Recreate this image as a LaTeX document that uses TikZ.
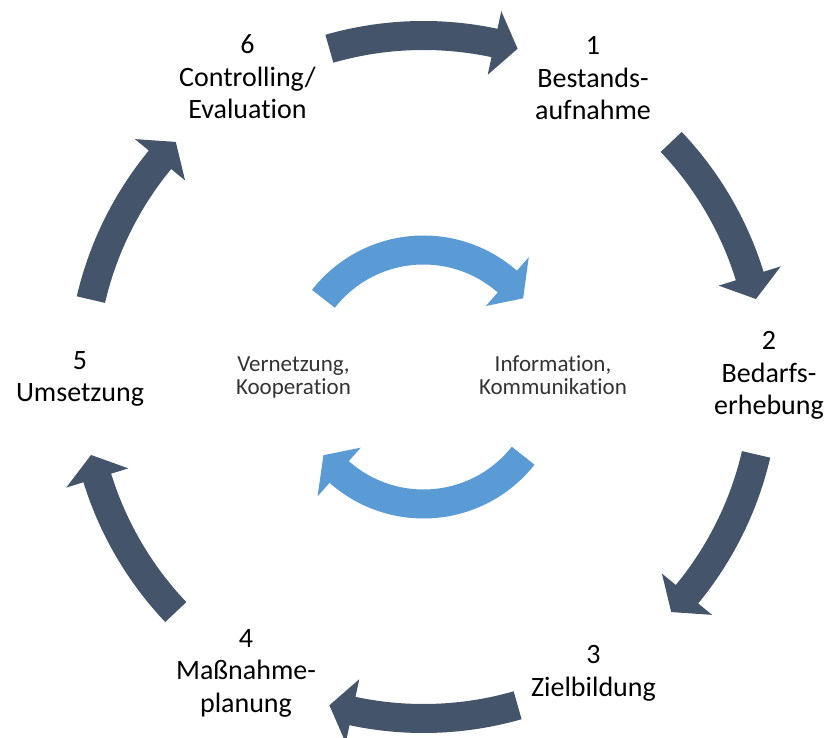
\documentclass[tikz,border=0pt]{standalone}
\usepackage{fontspec}
\setmainfont[Ligatures=NoCommon]{Carlito}
\definecolor{slate}{HTML}{44546A}
\definecolor{sky}{HTML}{5B9BD5}

% block arrow running clockwise on a circle round the origin
% #1 radius, #2 tail angle, #3 tip angle, #4 head length (degrees)
\newcommand\ringarrow[4]{%
  \pgfmathsetmacro\ro{#1+14.5}%
  \pgfmathsetmacro\ri{#1-14.5}%
  \pgfmathsetmacro\ho{#1+32.5}%
  \pgfmathsetmacro\hi{#1-32.5}%
  \pgfmathsetmacro\hb{#3+#4}%
  \fill (#2:\ro pt) arc[start angle=#2,end angle=\hb,radius=\ro pt]
    -- (\hb:\ho pt) -- (#3:#1pt) -- (\hb:\hi pt) -- (\hb:\ri pt)
    arc[start angle=\hb,end angle=#2,radius=\ri pt] -- cycle;
}

\begin{document}
\begin{tikzpicture}[x=1pt,y=1pt,
  phase/.style={align=center,inner sep=0pt,anchor=base,
    font=\fontsize{28}{32.5}\selectfont},
  hub/.style={align=center,inner sep=0pt,anchor=base,text=black!80,
    font=\fontsize{23}{23.5}\selectfont}]
\useasboundingbox (-423.5,-361) rectangle (400.5,377);

% outer cycle
\begin{scope}[fill=slate]
\foreach \a/\b in {106/74, 43.5/13.2, -13.1/-43.5, -74/-106, 223.5/193.2, 166.9/136.5}
  \ringarrow{341.5}{\a}{\b}{4};
\end{scope}

% inner pair
\begin{scope}[fill=sky]
\ringarrow{127}{142}{38.3}{10.4}
\ringarrow{127}{-38.3}{-142}{10.4}
\end{scope}

% anchor=base sits on the last line
\node[phase] (p1) at (169.5,257)  {1\\Bestands-\\aufnahme};
\node[phase] (p2) at (345.5,-38)  {2\\Bedarfs-\\erhebung};
\node[phase] (p3) at (170,-319)   {3\\Zielbildung};
\node[phase] (p4) at (-177.5,-335){4\\Maßnahme-\\planung};
\node[phase] (p5) at (-343.5,-25) {5\\Umsetzung};
\node[phase] (p6) at (-176,258)   {6\\Controlling/\\Evaluation};

\node[hub] (net) at (-130,-18)  {Vernetzung,\\Kooperation};
\node[hub] (inf) at (129.5,-18) {Information,\\Kommunikation};
\end{tikzpicture}
\end{document}
